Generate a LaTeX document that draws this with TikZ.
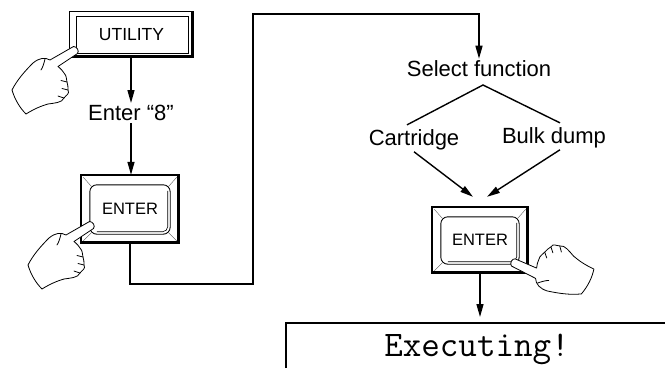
\documentclass[tikz,border=0pt]{standalone}
\usepackage{fontspec}
\setmainfont{Liberation Sans}
\usetikzlibrary{arrows.meta}

% frame and inner cap of a push key drawn around a node
\newcommand\keycap[1]{%
  \draw[line width=1.8pt] (#1.south west) rectangle (#1.north east);
  \draw[line width=1.6pt] ([shift={(-1.4pt,-1pt)}]#1.north east) -- ([shift={(-1.4pt,1.4pt)}]#1.south east) -- ([shift={(1pt,1.4pt)}]#1.south west);
  \draw[line width=0.9pt, rounded corners=7pt] ([shift={(9pt,-10pt)}]#1.north west) rectangle ([shift={(-9pt,9pt)}]#1.south east);
  \draw[line width=0.6pt, rounded corners=5pt] ([shift={(-11.5pt,-16pt)}]#1.north east) -- ([shift={(-11.5pt,11.5pt)}]#1.south east) -- ([shift={(16pt,11.5pt)}]#1.south west);
  \draw[line width=0.35pt, black!70] ([shift={(2.5pt,-2.5pt)}]#1.north west) -- ([shift={(10.5pt,-11.5pt)}]#1.north west);
  \draw[line width=0.35pt, black!70] ([shift={(-2.5pt,-2.5pt)}]#1.north east) -- ([shift={(-10.5pt,-11.5pt)}]#1.north east);
  \draw[line width=0.35pt, black!70] ([shift={(2.5pt,2.5pt)}]#1.south west) -- ([shift={(10.5pt,10.5pt)}]#1.south west);
  \draw[line width=0.35pt, black!70] ([shift={(-2.5pt,2.5pt)}]#1.south east) -- ([shift={(-10.5pt,10.5pt)}]#1.south east);
}

\tikzset{
  conn/.style={line width=1.4pt, -{Triangle[length=13pt,width=7pt]}},
  plain/.style={line width=1.4pt},
  lbl/.style={font=\fontsize{22}{22}\selectfont, inner sep=2pt},
  keytxt/.style={font=\fontsize{16.5}{16.5}\selectfont, inner sep=0pt},
  handline/.style={line width=0.8pt, line join=round, line cap=round},
  hand/.pic={
    \draw[handline, fill=white]
      (1.5,-3.5) .. controls (3.5,-1) and (1,3.5) .. (-2.5,3.5) -- (-26,-10)
      .. controls (-31,-7) and (-37,-8) .. (-43,-13)
      .. controls (-51,-21) and (-59,-30) .. (-64,-40)
      .. controls (-61,-50) and (-56,-58) .. (-50,-64)
      .. controls (-42,-59) and (-35,-56) .. (-28,-54)
      .. controls (-22,-53) and (-14,-53) .. (-12,-48)
      .. controls (-10,-45) and (-6,-44) .. (-8,-40)
      .. controls (-9,-37) and (-7,-35) .. (-9,-32)
      .. controls (-10,-29) and (-9,-26) .. (-12,-23)
      .. controls (-13,-21) and (-15,-19) .. (-18,-16.5)
      -- cycle;
    \draw[handline] (-12,-48) -- (-18,-46);
    \draw[handline] (-8,-40) -- (-14,-38.5);
    \draw[handline] (-9,-32) -- (-15,-30.5);
    \draw[handline] (-31,-9) .. controls (-32,-13) and (-33,-17) .. (-35,-20);
  }
}

\begin{document}
\begin{tikzpicture}[x=1pt,y=1pt]
\useasboundingbox (0,0) rectangle (665,-368);

% UTILITY key
\node[keytxt, minimum width=123pt, minimum height=45pt, font=\fontsize{17.5}{17.5}\selectfont] (util) at (131.5,-34.5) {UTILITY};
\draw[line width=0.7pt] (util.south west) rectangle (util.north east);
\draw[line width=0.6pt] ([shift={(6pt,-4pt)}]util.north west) rectangle ([shift={(-5pt,4pt)}]util.south east);
\draw[line width=2.2pt] ([shift={(-1.1pt,0pt)}]util.north east) -- ([shift={(-1.1pt,1.1pt)}]util.south east) -- ([shift={(0pt,1.1pt)}]util.south west);

% left branch
\node[lbl] (e8) at (131,-113) {Enter “8”};
\node[keytxt, minimum width=98pt, minimum height=68pt] (key1) at (130,-209) {ENTER};
\keycap{key1}

\draw[conn] (util.south -| e8) -- (e8.north);
\draw[conn] (e8.south) -- (e8.south |- key1.north);

% bracket to the right column
\coordinate (c1) at (253,-284);
\coordinate (c2) at (253,-14);
\node[lbl] (sel) at (479,-69) {Select function};
\draw[conn] (key1.south) |- (c1) -- (c2) -| (sel.north);

% choice
\node[lbl, anchor=base] (cart) at (414,-145) {Cartridge};
\node[lbl, anchor=base] (bulk) at (554,-143) {Bulk dump};
\coordinate (apex) at (483,-85);
\draw[plain] ([xshift=-7pt,yshift=2pt]cart.north) -- (apex) -- ([xshift=6pt,yshift=2pt]bulk.north);

\node[keytxt, minimum width=96pt, minimum height=66pt] (key2) at (480,-240) {ENTER};
\keycap{key2}
\draw[conn] (cart.south) -- ([xshift=-7pt,yshift=10pt]key2.north);
\draw[conn] ([xshift=6pt]bulk.south) -- ([xshift=7pt,yshift=10pt]key2.north);

% display
\coordinate (bl) at (286,-368);
\coordinate (tr) at (665,-323);
\draw[line width=1.1pt] (bl) |- (tr);
\node[font=\ttfamily\fontsize{36}{36}\selectfont, inner sep=0pt] (exec) at (477,-349) {Executing!};
\coordinate (dtop) at (480,-323);
\draw[conn] (key2.south) -- ([yshift=6pt]dtop);

% pointing hands
\pic at (76,-50) {hand};
\pic at (92,-225) {hand};
\pic[rotate=123] at (513,-262) {hand};
\end{tikzpicture}
\end{document}
